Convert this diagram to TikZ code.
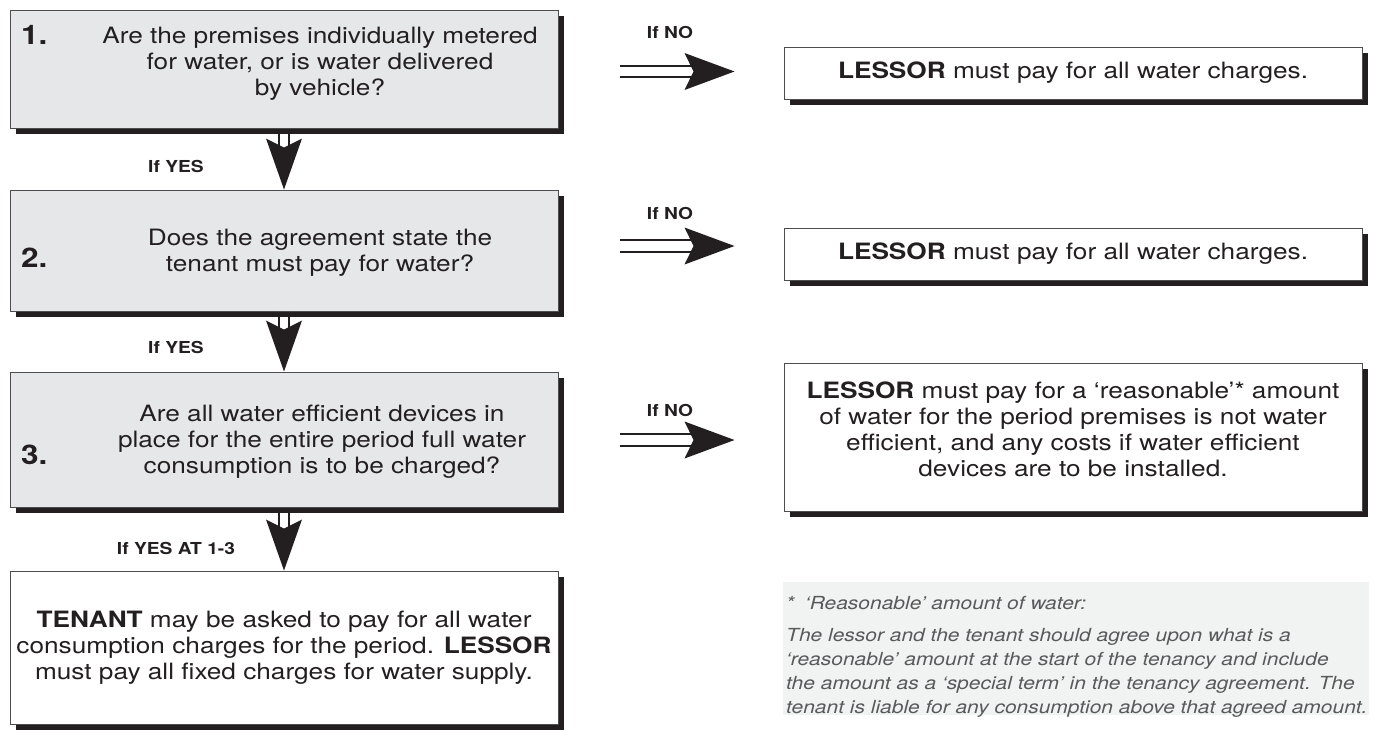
\documentclass[tikz,border=0pt]{standalone}
\usepackage{fontspec}
\setmainfont[FakeStretch=1.165]{TeX Gyre Heros}
\usetikzlibrary{calc,shadows}
\definecolor{boxgray}{HTML}{E6E7E8}
\definecolor{notegray}{HTML}{F1F2F2}
\definecolor{edge}{HTML}{4D4D4F}
\definecolor{ink}{HTML}{231F20}
\definecolor{notetext}{HTML}{58595B}

\newcommand\downArrow[2]{%
  \draw[stemline] ($(#1.south)+(-5,0)$) -- ($(#2.north)+(-5,-42)$);
  \draw[stemline] ($(#1.south)+(5,0)$) -- ($(#2.north)+(5,-42)$);
  \fill[ink] (#2.north) -- ++(-18,-51) -- ++(18,9) -- ++(18,-9) -- cycle;
}
\newcommand\rightArrow[3]{%
  \coordinate (hs) at ($(#1.east |- 0,#3)+(61,0)$);
  \coordinate (ht) at ($(#2.west |- 0,#3)+(-49,0)$);
  \draw[stemline] ($(hs)+(0,-5.7)$) -- ($(ht)+(-42,-5.7)$);
  \draw[stemline] ($(hs)+(0,5.7)$) -- ($(ht)+(-42,5.7)$);
  \fill[ink] (ht) -- ++(-50,-18.5) -- ++(9,18.5) -- ++(-9,18.5) -- cycle;
}

\begin{document}
\begin{tikzpicture}[x=1pt,y=-1pt,
  shadowed/.style={drop shadow={shadow xshift=6pt,shadow yshift=-6pt,fill=ink,opacity=1}},
  qbox/.style={draw=edge,line width=1pt,fill=boxgray,minimum width=548pt,inner sep=0pt,shadowed},
  rbox/.style={draw=edge,line width=1pt,fill=white,minimum width=578pt,inner sep=0pt,shadowed,
               align=center,text=ink,font=\fontsize{22.5}{26}\selectfont},
  body/.style={align=center,text=ink,inner sep=0pt,font=\fontsize{22.5}{26}\selectfont},
  num/.style={text=ink,inner sep=0pt,font=\fontsize{27}{30}\selectfont\bfseries},
  lbl/.style={text=ink,inner sep=0pt,font=\fontsize{16.5}{19}\selectfont\bfseries},
  stemline/.style={draw=ink,line width=2pt},
  notetxt/.style={text=notetext,inner sep=0pt,align=left,font=\fontsize{18}{24}\selectfont\itshape}
]
\useasboundingbox (0,0) rectangle (1373,729);

% question boxes
\node[qbox,minimum height=118pt] (b1) at (284,69) {};
\node[num,anchor=west] (n1) at (21,35) {1.};
\node[body] (t1) at (320,64) {Are the premises individually metered\\for water, or is water delivered\\by vehicle?};

\node[qbox,minimum height=121pt] (b2) at (284,250.5) {};
\node[num,anchor=west] (n2) at (21,258) {2.};
\node[body] (t2) at (320,253) {Does the agreement state the\\tenant must pay for water?};

\node[qbox,minimum height=135pt] (b3) at (284,439.5) {};
\node[num,anchor=west] (n3) at (21,455) {3.};
\node[body] (t3) at (322,442) {Are all water efficient devices in\\place for the entire period full water\\consumption is to be charged?};

\node[qbox,fill=white,minimum height=153pt,body] (b4) at (284,647.5)
  {\textbf{TENANT} may be asked to pay for all water\\consumption charges for the period. \textbf{LESSOR}\\must pay all fixed charges for water supply.};

% result boxes
\node[rbox,minimum height=52pt] (r1) at (1073,73) {\textbf{LESSOR} must pay for all water charges.};
\node[rbox,minimum height=52pt] (r2) at (1073,254) {\textbf{LESSOR} must pay for all water charges.};
\node[rbox,minimum height=148pt] (r3) at (1073,437) {};
\node[body] (r3t) at (1073,429)
  {\textbf{LESSOR} must pay for a ‘reasonable’* amount\\of water for the period premises is not water\\efficient, and any costs if water efficient\\devices are to be installed.};

% note
\node[fill=notegray,minimum width=586pt,minimum height=133pt,inner sep=0pt] (note) at (1076,648.5) {};
\node[notetxt,anchor=west] (note1) at (786,603) {*\hspace{0.6em}‘Reasonable’ amount of water:};
\node[notetxt,anchor=west] (note2) at (786,673) {The lessor and the tenant should agree upon what is a\\‘reasonable’ amount at the start of the tenancy and include\\the amount as a ‘special term’ in the tenancy agreement. The\\tenant is liable for any consumption above that agreed amount.};

% connectors
\downArrow{b1}{b2}
\downArrow{b2}{b3}
\downArrow{b3}{b4}
\rightArrow{b1}{r1}{71.5}
\rightArrow{b2}{r2}{246}
\rightArrow{b3}{r3}{440}

% labels
\node[lbl] (y1) at (176,166) {If YES};
\node[lbl] (y2) at (176,347) {If YES};
\node[lbl] (y3) at (176,548) {If YES AT 1-3};
\node[lbl] (no1) at (670,32) {If NO};
\node[lbl] (no2) at (670,213) {If NO};
\node[lbl] (no3) at (670,410) {If NO};
\end{tikzpicture}
\end{document}
